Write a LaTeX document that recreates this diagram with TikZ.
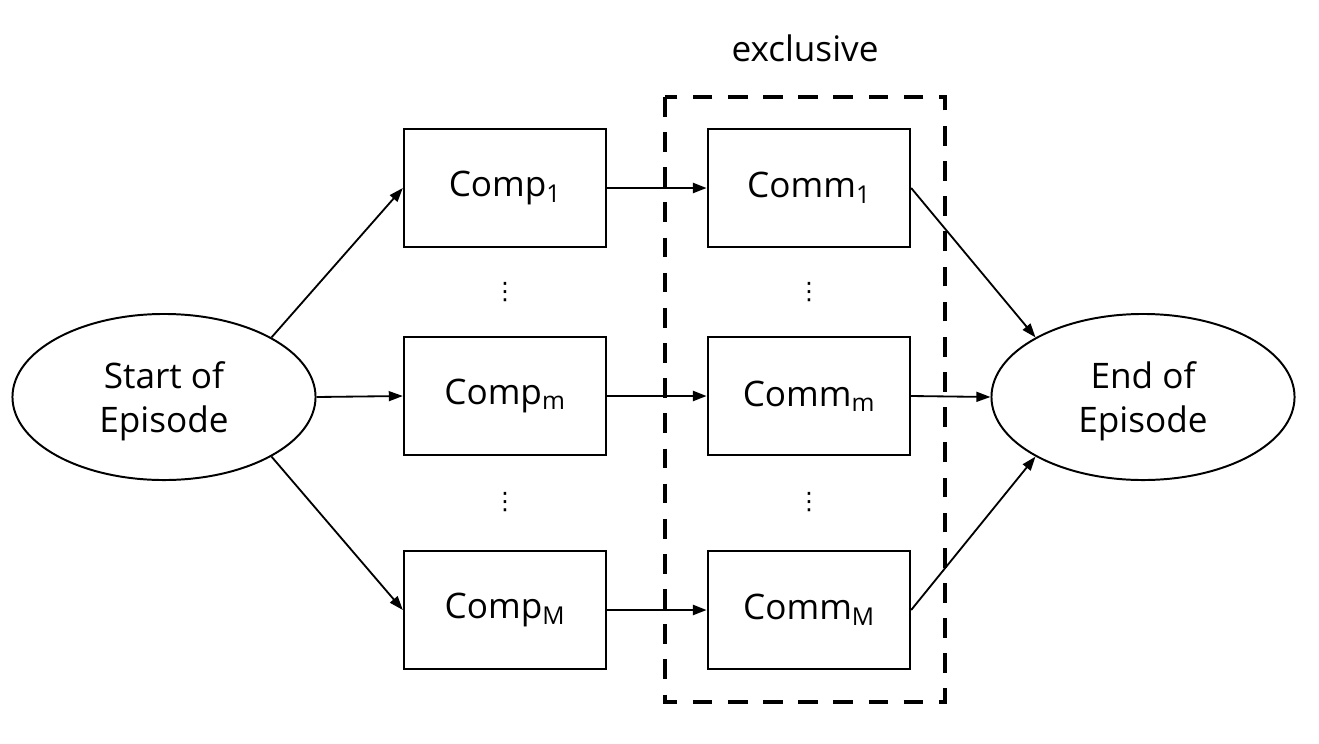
\documentclass[tikz,border=0pt]{standalone}
\usepackage{fontspec}
\setmainfont{Open Sans}
\newfontfamily\dotsfont{DejaVu Sans}
\usetikzlibrary{shapes.geometric,arrows.meta}

\begin{document}
\begin{tikzpicture}[x=0.025cm,y=-0.025cm,
  font=\fontsize{25}{31}\selectfont,
  block/.style={draw,line width=1.6pt,minimum width=5.05cm,minimum height=2.95cm,inner sep=0},
  episode/.style={draw,ellipse,line width=1.4pt,minimum width=7.575cm,minimum height=4.15cm,inner sep=0,align=center},
  vdot/.style={font=\dotsfont\fontsize{17}{17}\selectfont,inner sep=0},
  thinarrow/.style={-{Triangle[length=10pt,width=7pt]},line width=1.3pt},
  thickarrow/.style={-{Triangle[length=10pt,width=7pt]},line width=2.1pt}]
\useasboundingbox (0,0) rectangle (1319,743);
\node[episode] (start) at (164,397) {\\[-6pt]Start of\\Episode};
\node[episode] (end) at (1143,397) {\\[-6pt]End of\\Episode};
\node[block] (comp1) at (505,188) {Comp\textsubscript{1}};
\node[block] (compm) at (505,396) {Comp\textsubscript{m}};
\node[block] (compM) at (505,610) {Comp\textsubscript{M}};
\node[block] (comm1) at (809,188) {Comm\textsubscript{1}};
\node[block] (commm) at (809,396) {Comm\textsubscript{m}};
\node[block] (commM) at (809,610) {Comm\textsubscript{M}};
\node[vdot] (dotsa) at (505,292) {⋮};
\node[vdot] (dotsb) at (505,502) {⋮};
\node[vdot] (dotsc) at (809,292) {⋮};
\node[vdot] (dotsd) at (809,502) {⋮};
\draw[line width=3.5pt,dash pattern=on 14pt off 11pt] (665,97) rectangle (945,702);
\node (excl) at (805,48) {exclusive};
\draw[thinarrow] (start.29) -- (comp1.west);
\draw[thinarrow] (start.east) -- (compm.west);
\draw[thinarrow] (start.-29) -- (compM.west);
\draw[thickarrow] (comp1) -- (comm1);
\draw[thickarrow] (compm) -- (commm);
\draw[thickarrow] (compM) -- (commM);
\draw[thinarrow] (comm1.east) -- (end.151);
\draw[thinarrow] (commm.east) -- (end.west);
\draw[thinarrow] (commM.east) -- (end.-151);
\end{tikzpicture}
\end{document}
